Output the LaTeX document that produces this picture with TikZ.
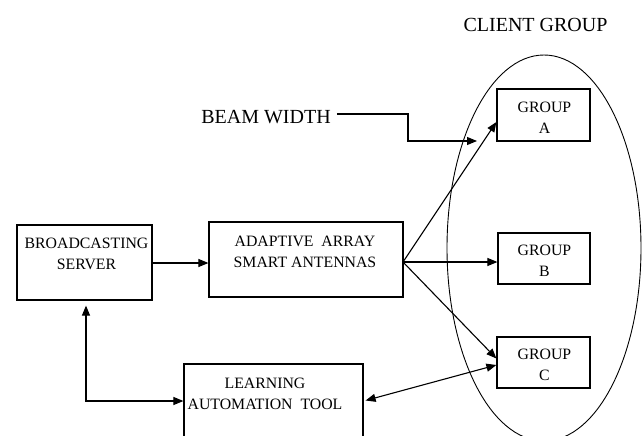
\documentclass[tikz,border=0pt]{standalone}
\usepackage{fontspec}
\setmainfont{Liberation Serif}
\usetikzlibrary{arrows.meta,calc}
\begin{document}
\begin{tikzpicture}[x=1pt,y=-1pt,
  box/.style={draw,line width=1.2pt,minimum width=#1,inner sep=0pt},
  boxtext/.style={align=center,anchor=base,inner sep=0pt,font=\fontsize{15.8}{21}\selectfont},
  bigtext/.style={anchor=base,inner sep=0pt,font=\fontsize{20}{24}\selectfont},
  conn/.style={line width=1.1pt,-{Triangle[length=10pt,width=8pt]}},
  biconn/.style={line width=1.1pt,{Triangle[length=10pt,width=8pt]}-{Triangle[length=10pt,width=8pt]}}]
\path[use as bounding box] (0,0) rectangle (643,436);
\clip (0,0) rectangle (643,436);
% boxes
\node[box=135pt,minimum height=75pt] (bs) at (84.5,262.5) {};
\node[box=194pt,minimum height=75pt] (aa) at (306,259.5) {};
\node[box=179pt,minimum height=96pt] (lat) at (273.5,412) {};
\node[box=93pt,minimum height=52pt] (ga) at (543.5,115) {};
\node[box=92pt,minimum height=51pt] (gb) at (544,258.5) {};
\node[box=93pt,minimum height=51pt] (gc) at (543.5,362.5) {};
\draw[line width=0.9pt] (544,248) ellipse [x radius=97, y radius=193];
% texts (anchor base = last line baseline)
\node[boxtext] (bst) at (86.5,269.3) {BROADCASTING\\SERVER};
\node[boxtext] (aat) at (305,267.3) {ADAPTIVE\ \ ARRAY\\SMART ANTENNAS};
\node[boxtext] (latt) at (265,409.3) {LEARNING\\AUTOMATION\ \ TOOL};
\node[boxtext] (gat) at (544.5,133.2) {GROUP\\A};
\node[boxtext] (gbt) at (544.5,276.2) {GROUP\\B};
\node[boxtext] (gct) at (544.5,380.2) {GROUP\\C};
\node[bigtext] (cg) at (535.5,31.6) {CLIENT GROUP};
\node[bigtext] (bw) at (266,123.6) {BEAM WIDTH};
% connectors
\coordinate (bwend) at (477,141);
\coordinate (src) at (403,262);
\draw[conn] (bs.east |- 0,263) -- (aa.west |- 0,263);
\draw[conn] (bw.east |- 0,114) ++(6,0) -- (408,114) -- (408,141) -- (bwend);
\draw[conn] (src) -- ($(ga.west)+(0,7)$);
\draw[conn] (src) -- (gb.west |- src);
\draw[conn] (src) -- ($(gc.west)+(0,-4)$);
\draw[biconn] ($(lat.east)+(2,-11.5)$) -- ($(gc.west)+(0,2.5)$);
\draw[biconn] ($(bs.south)+(1.5,5)$) -- (86,401) -- (lat.west |- 0,401);
\end{tikzpicture}
\end{document}
